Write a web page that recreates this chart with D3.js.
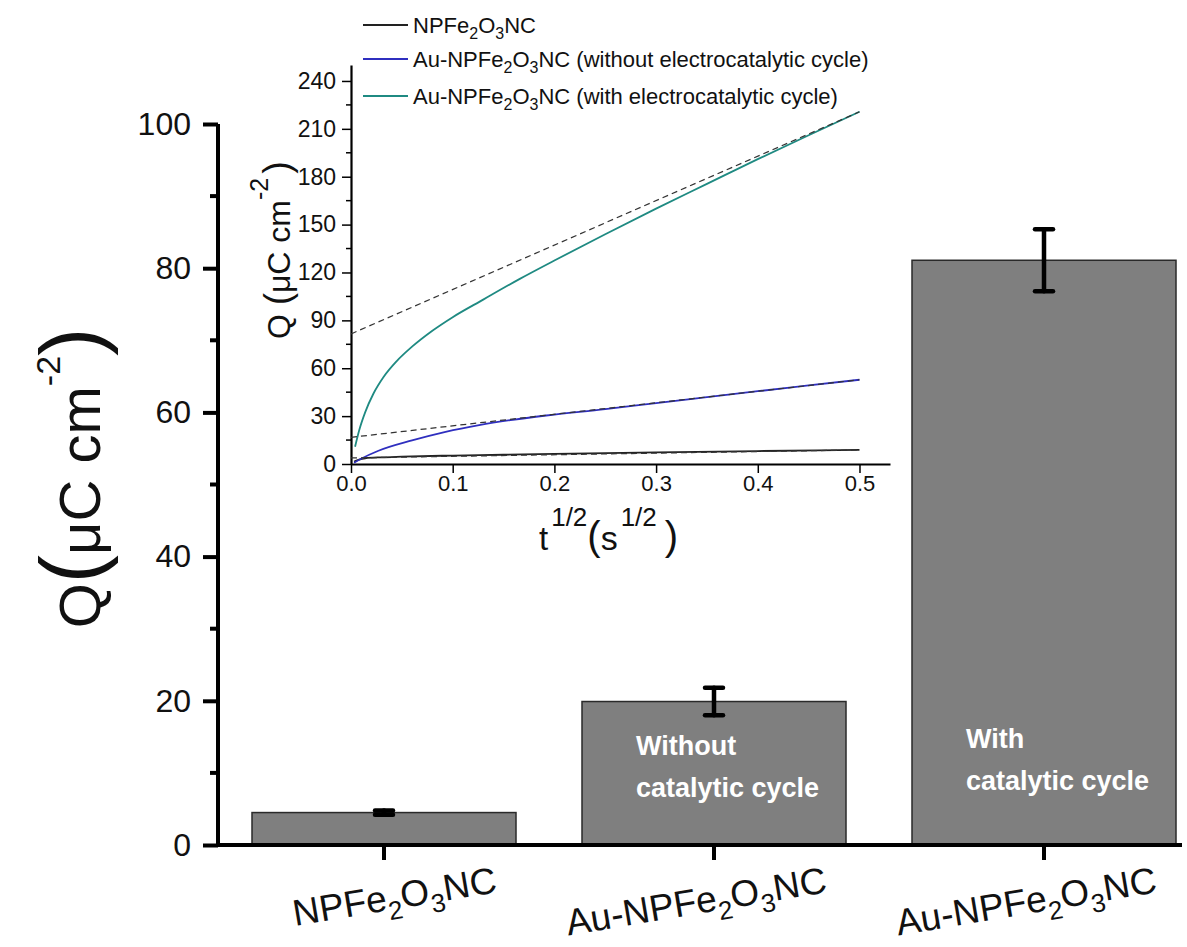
<!DOCTYPE html>
<html><head><meta charset="utf-8">
<script src="https://cdn.jsdelivr.net/npm/d3@7"></script>
<style>
body{margin:0;background:#fff}
svg{display:block;font-family:"Liberation Sans",Arial,Helvetica,sans-serif}
</style>
</head><body><svg id="c" width="1187" height="947"></svg>
<script>
// ---------------- data ----------------
const categories = ["NPFe2O3NC", "Au-NPFe2O3NC", "Au-NPFe2O3NC"];
const barValues = [4.5, 19.9, 81.1];
const barErrors = [0.3, 1.9, 4.3];
const barNotes = [[], ["Without", "catalytic cycle"], ["With", "catalytic cycle"]];
const mainTicks = [0, 20, 40, 60, 80, 100];
const mainMinorTicks = [10, 30, 50, 70, 90];

const legendLabels = ["NPFe2O3NC", "Au-NPFe2O3NC (without electrocatalytic cycle)", "Au-NPFe2O3NC (with electrocatalytic cycle)"];
const seriesColors = ["#222222", "#2f2fbf", "#1f8a82"];

const blackT = [0.003, 0.008, 0.014, 0.03, 0.05, 0.1, 0.15, 0.2, 0.3, 0.4, 0.5];
const blackQ = [1.5, 2.8, 3.6, 4.2, 4.6, 5.3, 5.8, 6.4, 7.3, 8.1, 8.8];
const blueT = [0.003, 0.01, 0.027, 0.06, 0.093, 0.126, 0.159, 0.192, 0.25, 0.3, 0.35, 0.4, 0.45, 0.5];
const blueQ = [0.8, 3.3, 8.3, 14.8, 20.2, 24.4, 27.7, 30.4, 34.4, 38.2, 41.9, 45.6, 49.2, 52.8];
const tealT = [0.004, 0.008, 0.014, 0.022, 0.032, 0.045, 0.06, 0.08, 0.1, 0.13, 0.166, 0.2, 0.25, 0.3, 0.35, 0.4, 0.45, 0.5];
const tealQ = [10.8, 21, 32.5, 44, 54.5, 64.5, 73.5, 83.5, 92, 103, 116, 127.5, 144, 160, 175.5, 191, 206, 220.7];

const fitT = [0, 0.5];
const blackFitQ = [3.8, 8.8];
const blueFitQ = [16.7, 52.8];
const tealFitQ = [81.5, 220.7];

const insetXTicks = [0, 0.1, 0.2, 0.3, 0.4, 0.5];
const insetYTicks = [0, 30, 60, 90, 120, 150, 180, 210, 240];
const insetYMinor = [15, 45, 75, 105, 135, 165, 195, 225];

// ---------------- helpers ----------------
const svg = d3.select("#c");

function chemTspans(sel, str, size, subSize, shift) {
  const parts = str.split(/(\d)/).filter(s => s.length);
  let down = false;
  parts.forEach(p => {
    const isSub = /^\d$/.test(p);
    const t = sel.append("tspan").text(p).attr("font-size", isSub ? subSize : size);
    if (isSub && !down) { t.attr("dy", shift); down = true; }
    else if (!isSub && down) { t.attr("dy", -shift); down = false; }
  });
}

// ---------------- main chart ----------------
const x = d3.scaleBand().domain(d3.range(categories.length)).range([219, 1209]).paddingInner(0.2).paddingOuter(0.1);
const y = d3.scaleLinear().domain([0, 100]).range([845, 124]);

svg.append("g").selectAll("rect").data(barValues).join("rect")
  .attr("x", (d, i) => x(i)).attr("y", d => y(d))
  .attr("width", x.bandwidth()).attr("height", d => y(0) - y(d))
  .attr("fill", "#7f7f7f").attr("stroke", "#2a2a2a").attr("stroke-width", 1.5);

const eb = svg.append("g").attr("stroke", "#000").attr("stroke-width", 4.5).attr("stroke-linecap", "round");
barValues.forEach((v, i) => {
  const cx = x(i) + x.bandwidth() / 2, e = barErrors[i];
  eb.append("line").attr("x1", cx).attr("x2", cx).attr("y1", y(v + e)).attr("y2", y(v - e));
  eb.append("line").attr("x1", cx - 9).attr("x2", cx + 9).attr("y1", y(v + e)).attr("y2", y(v + e));
  eb.append("line").attr("x1", cx - 9).attr("x2", cx + 9).attr("y1", y(v - e)).attr("y2", y(v - e));
});

barNotes.forEach((lines, i) => {
  lines.forEach((ln, j) => {
    svg.append("text").attr("x", x(i) + 54).attr("y", (i === 1 ? 755 : 748) + j * 42)
      .attr("fill", "#fff").attr("font-weight", "bold").attr("font-size", 27).text(ln);
  });
});

const yAxis = svg.append("g").attr("transform", "translate(218,0)")
  .call(d3.axisLeft(y).tickValues(mainTicks).tickSize(15).tickPadding(12).tickSizeOuter(0));
yAxis.select(".domain").attr("stroke-width", 4).attr("d", `M0,${y(0) + 2}V${y(100)}`);
yAxis.selectAll(".tick line").attr("stroke-width", 4);
yAxis.selectAll(".tick text").attr("font-size", 32).attr("font-family", "Liberation Sans, Arial, sans-serif").attr("fill", "#111");
svg.append("g").selectAll("line").data(mainMinorTicks).join("line")
  .attr("x1", 210).attr("x2", 218).attr("y1", d => y(d)).attr("y2", d => y(d))
  .attr("stroke", "#000").attr("stroke-width", 4);

const xAxis = svg.append("g").attr("transform", `translate(0,${y(0)})`)
  .call(d3.axisBottom(x).tickSize(15).tickSizeOuter(0).tickFormat(""));
xAxis.select(".domain").attr("stroke-width", 4).attr("d", "M216,0H1182");
xAxis.selectAll(".tick line").attr("stroke-width", 4);

categories.forEach((c, i) => {
  const cx = x(i) + x.bandwidth() / 2;
  const t = svg.append("text").attr("text-anchor", "end")
    .attr("transform", `translate(${cx + 114},892) rotate(-9.5)`).attr("fill", "#111");
  chemTspans(t, c, 37, 26, 10);
});

const yt = svg.append("text").attr("text-anchor", "middle")
  .attr("transform", "translate(100,478) rotate(-90)").attr("fill", "#111");
yt.append("tspan").attr("font-size", 58).text("Q");
yt.append("tspan").attr("font-size", 85).text("(");
yt.append("tspan").attr("font-size", 58).text("μC cm");
yt.append("tspan").attr("font-size", 34).attr("dy", -40).text("-2");
yt.append("tspan").attr("font-size", 85).attr("dy", 40).text(")");

// ---------------- inset ----------------
const ix = d3.scaleLinear().domain([0, 0.53]).range([351, 890]);
const iy = d3.scaleLinear().domain([0, 250]).range([464, 65]);

const ixAxis = svg.append("g").attr("transform", `translate(0,${iy(0)})`)
  .call(d3.axisBottom(ix).tickValues(insetXTicks).tickSize(9).tickPadding(2).tickFormat(d3.format(".1f")).tickSizeOuter(0));
ixAxis.select(".domain").attr("stroke-width", 2.2);
ixAxis.selectAll(".tick line").attr("stroke-width", 1.5);
ixAxis.selectAll(".tick text").attr("font-size", 22).attr("font-family", "Liberation Sans, Arial, sans-serif").attr("fill", "#111");

const iyAxis = svg.append("g").attr("transform", `translate(${ix(0)},0)`)
  .call(d3.axisLeft(iy).tickValues(insetYTicks).tickSize(9).tickPadding(6).tickSizeOuter(0));
iyAxis.select(".domain").attr("stroke-width", 2.2);
iyAxis.selectAll(".tick line").attr("stroke-width", 1.5);
iyAxis.selectAll(".tick text").attr("font-size", 23).attr("font-family", "Liberation Sans, Arial, sans-serif").attr("fill", "#111");
svg.append("g").selectAll("line").data(insetYMinor).join("line")
  .attr("x1", ix(0) - 5).attr("x2", ix(0)).attr("y1", d => iy(d)).attr("y2", d => iy(d))
  .attr("stroke", "#000").attr("stroke-width", 1.5);

const line = d3.line().x(d => ix(d[0])).y(d => iy(d[1])).curve(d3.curveMonotoneX);
const curves = [[blackT, blackQ], [blueT, blueQ], [tealT, tealQ]];
curves.forEach(([T, Q], k) => {
  svg.append("path").datum(T.map((t, i) => [t, Q[i]])).attr("d", line)
    .attr("fill", "none").attr("stroke", seriesColors[k]).attr("stroke-width", 1.8);
});
const fits = [blackFitQ, blueFitQ, tealFitQ];
fits.forEach(Q => {
  svg.append("path").datum(fitT.map((t, i) => [t, Q[i]])).attr("d", d3.line().x(d => ix(d[0])).y(d => iy(d[1])))
    .attr("fill", "none").attr("stroke", "#333").attr("stroke-width", 1.2).attr("stroke-dasharray", "6,4");
});

const legY = [25, 59, 96];
legendLabels.forEach((lab, k) => {
  svg.append("line").attr("x1", 363).attr("x2", 408).attr("y1", legY[k]).attr("y2", legY[k])
    .attr("stroke", seriesColors[k]).attr("stroke-width", 1.8);
  const t = svg.append("text").attr("x", 413).attr("y", legY[k] + 8).attr("fill", "#111");
  chemTspans(t, lab, 22, 16, 6);
});

const iyt = svg.append("text").attr("text-anchor", "middle")
  .attr("transform", "translate(290,250) rotate(-90)").attr("fill", "#111");
iyt.append("tspan").attr("font-size", 32).text("Q ");
iyt.append("tspan").attr("font-size", 36).text("(");
iyt.append("tspan").attr("font-size", 32).text("μC cm");
iyt.append("tspan").attr("font-size", 25).attr("dy", -22).text("-2");
iyt.append("tspan").attr("font-size", 38).attr("dy", 22).attr("dx", 4).text(")");

const ixt = svg.append("text").attr("x", 539).attr("y", 550).attr("fill", "#111");
ixt.append("tspan").attr("font-size", 33).text("t");
ixt.append("tspan").attr("font-size", 26).attr("dy", -24).attr("dx", 3).text("1/2");
ixt.append("tspan").attr("font-size", 40).attr("dy", 24).text("(");
ixt.append("tspan").attr("font-size", 34).text("s");
ixt.append("tspan").attr("font-size", 26).attr("dy", -24).attr("dx", 3).text("1/2");
ixt.append("tspan").attr("font-size", 40).attr("dy", 24).attr("dx", 8).text(")");
</script>
</body></html>
